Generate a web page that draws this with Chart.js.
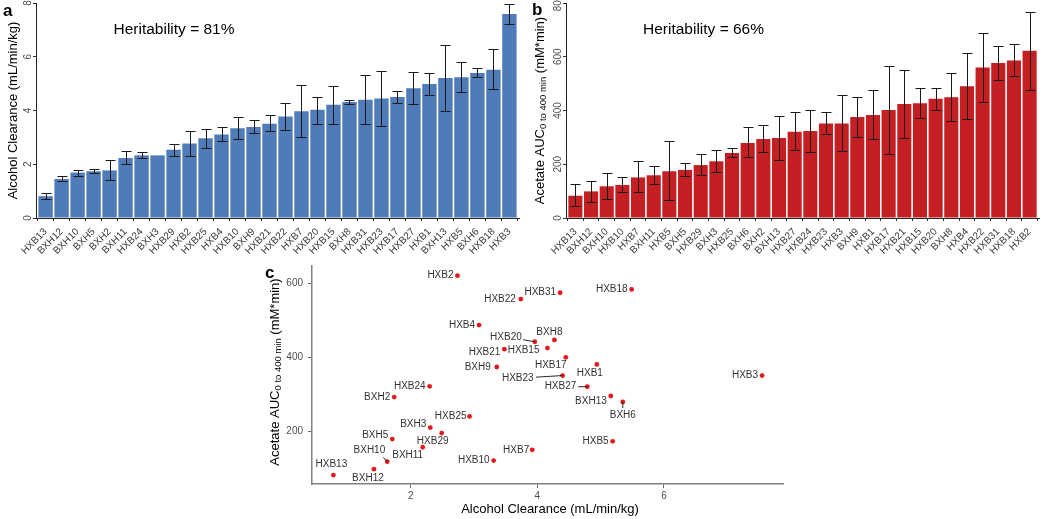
<!DOCTYPE html>
<html><head><meta charset="utf-8">
<script src="https://cdn.jsdelivr.net/npm/chart.js@4.4.1/dist/chart.umd.min.js"></script>
<style>
html,body{margin:0;padding:0;background:#fff;width:1050px;height:519px;overflow:hidden;position:relative}
canvas{position:absolute}
</style></head><body>
<canvas id="ca" width="530" height="260" style="left:0;top:0"></canvas>
<canvas id="cb" width="520" height="260" style="left:530px;top:0"></canvas>
<canvas id="cc" width="560" height="264" style="left:240px;top:255px"></canvas>
<script>
// ---------- Panel a data ----------
const strainsA = ["HXB13","BXH12","BXH10","BXH5","BXH2","BXH11","HXB24","BXH3","HXB29","HXB2","HXB25","HXB4","HXB10","BXH9","HXB21","HXB22","HXB7","HXB20","HXB15","BXH8","HXB31","HXB23","HXB17","HXB27","HXB1","BXH13","HXB5","BXH6","HXB18","HXB3"];
const clearanceMean = [0.81,1.45,1.69,1.74,1.77,2.23,2.33,2.33,2.54,2.77,2.97,3.11,3.34,3.39,3.51,3.78,3.97,4.03,4.21,4.32,4.40,4.45,4.50,4.83,4.99,5.21,5.24,5.40,5.52,7.59];
const clearanceLow  = [0.71,1.36,1.58,1.67,1.43,2.02,2.22,null,2.32,2.32,2.61,2.88,2.94,3.16,3.23,3.29,3.00,3.51,3.51,4.26,3.51,3.44,4.28,4.26,4.58,4.00,4.70,5.25,4.81,7.23];
const clearanceHigh = [0.93,1.55,1.80,1.82,2.15,2.48,2.44,null,2.77,3.24,3.33,3.39,3.76,3.66,3.85,4.28,4.96,4.50,4.90,4.39,5.31,5.48,4.73,5.42,5.40,6.44,5.79,5.57,6.27,7.95];
const ticksA = [0,2,4,6,8];

// ---------- Panel b data ----------
const strainsB = ["HXB13","BXH12","BXH10","HXB10","HXB7","BXH11","HXB5","BXH5","HXB29","BXH3","HXB25","BXH6","BXH2","BXH13","HXB27","HXB24","HXB23","HXB3","BXH9","HXB1","HXB17","HXB21","HXB15","HXB20","BXH8","HXB4","HXB22","HXB31","HXB18","HXB2"];
const acetateMean = [83,99,118,123,151,159,174,179,197,211,242,279,294,298,321,324,352,352,376,383,402,424,427,444,449,490,560,577,586,622];
const acetateLow  = [43,61,71,96,96,127,66,156,160,171,227,226,244,216,252,247,313,251,300,293,239,299,371,403,361,370,431,514,527,478];
const acetateHigh = [128,138,169,153,211,192,285,203,237,253,259,337,346,378,395,403,393,457,452,475,565,552,485,485,540,613,690,641,648,768];
const ticksB = [0,200,400,600,800];

// ---------- Panel c data ----------
const scatterStrains   = ["HXB2","HXB22","HXB31","HXB18","HXB4","HXB20","BXH8","HXB21","HXB15","BXH9","HXB17","HXB1","HXB23","HXB27","BXH13","BXH6","HXB5","HXB3","HXB24","BXH2","HXB25","BXH3","HXB29","BXH5","BXH11","BXH10","HXB10","HXB7","HXB13","BXH12"];
const scatterClearance = [2.74,3.74,4.36,5.49,3.08,3.96,4.27,3.48,4.16,3.36,4.45,4.94,4.40,4.79,5.16,5.35,5.19,7.55,2.30,1.74,2.93,2.31,2.49,1.71,2.19,1.63,3.31,3.92,0.78,1.42];
const scatterAcetate   = [620,557,574,583,487,442,447,422,425,374,400,381,351,321,296,280,174,351,322,293,241,211,196,180,158,119,122,151,83,99];
const ticksCx = [2,4,6];
const ticksCy = [200,400,600];

// label placement (offsets in px from the point; style only)
const labelLayout = {
  HXB2:[-4,0,'right'], HXB22:[-5,0,'right'], HXB31:[-4,0,'right'], HXB18:[-4,0,'right'],
  HXB4:[-4,0,'right'], HXB20:[-13,-5,'right',[-11.7,-2]], BXH8:[-5,-8,'center'],
  HXB21:[-4,3,'right'], HXB15:[-8,2,'right'], BXH9:[-6,0,'right'], HXB17:[-15,8,'center'],
  HXB1:[-7,9,'center'], HXB23:[-29,3,'right',[-26.7,1.6]], HXB27:[-11,0,'right',[-9,0]],
  BXH13:[-4,5,'right'], BXH6:[0,13,'center',[0,6]], HXB5:[-4,0,'right'], HXB3:[-4,0,'right'],
  HXB24:[-4,0,'right'], BXH2:[-4,0,'right'], HXB25:[-3,0,'right'], BXH3:[-4,-3,'right'],
  HXB29:[-9,8,'center'], BXH5:[-4,-4,'right'], BXH11:[-15,8,'center'],
  BXH10:[-2,-11,'right',[-4,-4.4]], HXB10:[-4,0,'right'], HXB7:[-3,0,'right'],
  HXB13:[-2,-11,'center'], BXH12:[-6,9,'center']
};

const FONT = "'Liberation Sans', Arial, Helvetica, sans-serif";

function drawRich(ctx, parts, cx, cy, rot){
  ctx.save();
  ctx.translate(cx, cy);
  if (rot) ctx.rotate(rot);
  let w = 0;
  parts.forEach(p => { ctx.font = p.size + 'px ' + FONT; p.w = ctx.measureText(p.t).width; w += p.w; });
  let x = -w/2;
  ctx.textAlign = 'left'; ctx.textBaseline = 'middle';
  parts.forEach(p => { ctx.font = p.size + 'px ' + FONT; ctx.fillText(p.t, x, p.dy || 0); x += p.w; });
  ctx.restore();
}

const errorBars = {
  id: 'errorBars',
  afterDatasetsDraw(chart, args, opts){
    const {ctx, scales:{x, y}} = chart;
    ctx.save();
    ctx.strokeStyle = '#1a1a1a'; ctx.lineWidth = 1;
    opts.low.forEach((lo, i) => {
      const hi = opts.high[i];
      if (lo == null || hi == null) return;
      const px = Math.round(x.getPixelForValue(i)) + 0.5;
      const p1 = Math.round(y.getPixelForValue(hi)) + 0.5, p2 = Math.round(y.getPixelForValue(lo)) + 0.5;
      ctx.beginPath();
      ctx.moveTo(px, p1); ctx.lineTo(px, p2);
      ctx.moveTo(px-5, p1); ctx.lineTo(px+5, p1);
      ctx.moveTo(px-5, p2); ctx.lineTo(px+5, p2);
      ctx.stroke();
    });
    ctx.restore();
  }
};

const decorations = {
  id: 'decorations',
  afterDraw(chart, args, opts){
    const ctx = chart.ctx;
    ctx.save();
    ctx.fillStyle = '#000';
    ctx.font = 'bold 17px ' + FONT; ctx.textAlign = 'left'; ctx.textBaseline = 'alphabetic';
    ctx.fillText(opts.letter, opts.letterPos[0], opts.letterPos[1]);
    if (opts.heading) {
      ctx.font = '15.5px ' + FONT; ctx.textAlign = 'center'; ctx.textBaseline = 'middle';
      ctx.fillText(opts.heading, opts.headingPos[0], opts.headingPos[1]);
    }
    if (opts.yTicks) {
      const ys = chart.scales.y;
      ctx.fillStyle = '#4d4d4d'; ctx.font = '10px ' + FONT; ctx.textAlign = 'center'; ctx.textBaseline = 'middle';
      opts.yTicks.forEach(v => {
        ctx.save();
        ctx.translate(chart.chartArea.left - 8, ys.getPixelForValue(v));
        ctx.rotate(-Math.PI/2);
        ctx.fillText(String(v), 0, 0);
        ctx.restore();
      });
    }
    ctx.fillStyle = '#000';
    if (opts.yTitle) drawRich(ctx, opts.yTitle, opts.yTitlePos[0], opts.yTitlePos[1], -Math.PI/2);
    if (opts.xTitle) drawRich(ctx, opts.xTitle, opts.xTitlePos[0], opts.xTitlePos[1], 0);
    ctx.restore();
  }
};

const pointLabels = {
  id: 'pointLabels',
  afterDatasetsDraw(chart){
    const ctx = chart.ctx;
    const meta = chart.getDatasetMeta(0);
    ctx.save();
    ctx.font = '10px ' + FONT; ctx.textBaseline = 'middle';
    meta.data.forEach((el, i) => {
      const name = scatterStrains[i];
      const L = labelLayout[name] || [-4,0,'right'];
      if (L[3]) {
        ctx.strokeStyle = '#111'; ctx.lineWidth = 0.9;
        ctx.beginPath(); ctx.moveTo(el.x + L[3][0], el.y + L[3][1]); ctx.lineTo(el.x, el.y); ctx.stroke();
      }
      ctx.fillStyle = '#333'; ctx.textAlign = L[2];
      ctx.fillText(name, el.x + L[0], el.y + L[1]);
    });
    ctx.restore();
  }
};

function barChart(id, cats, means, lo, hi, color, yMax, yTicks, deco){
  return new Chart(document.getElementById(id), {
    type: 'bar',
    data: { datasets: [{ data: means.map((v, i) => ({x: i, y: v})), backgroundColor: color, borderWidth: 0, barPercentage: 0.9, categoryPercentage: 1 }] },
    options: {
      responsive: false, animation: false, devicePixelRatio: 1,
      layout: { padding: { left: 0, right: 11, top: 3, bottom: 0 } },
      plugins: { legend: { display: false }, tooltip: { enabled: false }, errorBars: { low: lo, high: hi }, decorations: deco },
      scales: {
        x: {
          type: 'linear', min: -0.6, max: cats.length - 0.4, offset: false,
          afterBuildTicks: s => { s.ticks = cats.map((c, i) => ({ value: i })); },
          ticks: { autoSkip: false, minRotation: 45, maxRotation: 45, padding: 5, color: '#3a3a3a', font: { size: 10, family: FONT }, callback: v => cats[v] },
          grid: { drawOnChartArea: false, drawTicks: true, tickLength: 3, color: '#333' },
          border: { display: true, color: '#222', width: 1 },
          afterFit: s => { s.height = 42; }
        },
        y: {
          min: 0, max: yMax,
          afterBuildTicks: s => { s.ticks = yTicks.map(v => ({ value: v })); },
          ticks: { display: false },
          grid: { drawOnChartArea: false, drawTicks: true, tickLength: 3, color: '#333' },
          border: { display: true, color: '#222', width: 1 },
          afterFit: s => { s.width = 36; }
        }
      }
    },
    plugins: [errorBars, decorations]
  });
}

barChart('ca', strainsA, clearanceMean, clearanceLow, clearanceHigh, '#4f7bb9', 8, ticksA, {
  letter: 'a', letterPos: [3, 16], heading: 'Heritability = 81%', headingPos: [174, 30], yTicks: ticksA,
  yTitle: [{ t: 'Alcohol Clearance (mL/min/kg)', size: 13 }], yTitlePos: [13, 110.5]
});

barChart('cb', strainsB, acetateMean, acetateLow, acetateHigh, '#c41f22', 800, ticksB, {
  letter: 'b', letterPos: [2, 15], heading: 'Heritability = 66%', headingPos: [173.5, 30], yTicks: ticksB,
  yTitle: [{ t: 'Acetate AUC', size: 13 }, { t: '0 to 400 min', size: 9.5, dy: 3 }, { t: ' (mM*min)', size: 13 }], yTitlePos: [10, 110.5]
});

new Chart(document.getElementById('cc'), {
  type: 'scatter',
  data: { datasets: [{ data: scatterClearance.map((x, i) => ({ x: x, y: scatterAcetate[i] })), pointRadius: 2.4, pointBackgroundColor: '#e3191c', pointBorderWidth: 0 }] },
  options: {
    responsive: false, animation: false, devicePixelRatio: 1,
    layout: { padding: { left: 0, right: 17, top: 11, bottom: 0 } },
    plugins: {
      legend: { display: false }, tooltip: { enabled: false },
      decorations: {
        letter: 'c', letterPos: [25, 23],
        yTitle: [{ t: 'Acetate AUC', size: 13 }, { t: '0 to 400 min', size: 9.5, dy: 3 }, { t: ' (mM*min)', size: 13 }], yTitlePos: [35, 117],
        xTitle: [{ t: 'Alcohol Clearance (mL/min/kg)', size: 13 }], xTitlePos: [310, 254]
      }
    },
    scales: {
      x: {
        type: 'linear', min: 0.442, max: 7.88,
        afterBuildTicks: s => { s.ticks = ticksCx.map(v => ({ value: v })); },
        ticks: { padding: 2, color: '#4d4d4d', font: { size: 10, family: FONT } },
        grid: { drawOnChartArea: false, drawTicks: true, tickLength: 4, color: '#666' },
        border: { display: true, color: '#808080', width: 1.5 },
        afterFit: s => { s.height = 35; }
      },
      y: {
        type: 'linear', min: 59, max: 646,
        afterBuildTicks: s => { s.ticks = ticksCy.map(v => ({ value: v })); },
        ticks: { padding: 5, color: '#4d4d4d', font: { size: 10, family: FONT } },
        grid: { drawOnChartArea: false, drawTicks: true, tickLength: 4, color: '#666' },
        border: { display: true, color: '#808080', width: 1.5 },
        afterFit: s => { s.width = 72; }
      }
    }
  },
  plugins: [pointLabels, decorations]
});
</script>
</body></html>
